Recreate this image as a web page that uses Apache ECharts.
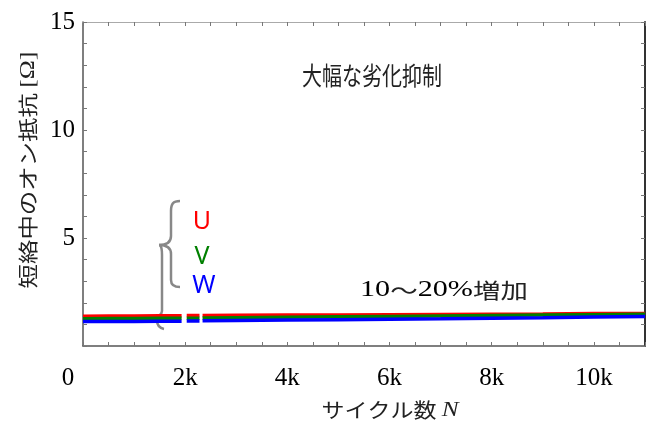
<!DOCTYPE html>
<html>
<head>
<meta charset="utf-8">
<script src="https://cdn.jsdelivr.net/npm/echarts@6/dist/echarts.min.js"></script>
<style>html,body{margin:0;padding:0;background:#fff}#c{width:654px;height:421px}</style>
</head>
<body>
<div id="c"></div>
<script>
var cycles = [0, 500, 1000, 1500, 1930, 1980, 2030, 2280, 2310, 2340, 3000, 4000, 5000, 6000, 7000, 8000, 9000, 10000, 11000];
var seriesU = [1.38, 1.39, 1.39, 1.40, 1.40, null, 1.41, 1.41, null, 1.41, 1.42, 1.43, 1.44, 1.45, 1.46, 1.47, 1.48, 1.50, 1.51];
var seriesV = [1.26, 1.27, 1.27, 1.28, 1.28, null, 1.29, 1.29, null, 1.30, 1.31, 1.33, 1.35, 1.37, 1.39, 1.41, 1.43, 1.45, 1.47];
var seriesW = [1.13, 1.14, 1.14, 1.15, 1.15, null, 1.16, 1.16, null, 1.17, 1.18, 1.20, 1.22, 1.24, 1.26, 1.29, 1.31, 1.34, 1.36];
var seriesNames = ['U', 'V', 'W'];
var seriesColors = ['#ff0000', '#008000', '#0000ff'];
var xTickLabels = ['0', '2k', '4k', '6k', '8k', '10k'];
var yTickLabels = ['', '5', '10', '15'];

function pairs(ys) { return cycles.map(function (x, i) { return [x, ys[i]]; }); }

var chart = echarts.init(document.getElementById('c'));
var serif = '"Liberation Serif","DejaVu Serif",serif';
var jp = '"Noto Sans CJK JP","Noto Sans",sans-serif';
var braceStyle = { stroke: '#888', lineWidth: 2.5, fill: null };
function bz(x1, y1, c1x, c1y, c2x, c2y, x2, y2) {
  return { type: 'bezierCurve', shape: { x1: x1, y1: y1, cpx1: c1x, cpy1: c1y, cpx2: c2x, cpy2: c2y, x2: x2, y2: y2 }, style: braceStyle };
}
function ln(x1, y1, x2, y2) {
  return { type: 'line', shape: { x1: x1, y1: y1, x2: x2, y2: y2 }, style: braceStyle };
}

var tickStyle = { show: true, inside: true, length: 4, lineStyle: { color: '#777', width: 1 } };
var minorX = { show: true, splitNumber: 4, length: 4, lineStyle: { color: '#777' } };
var minorY = { show: true, splitNumber: 5, length: 4, lineStyle: { color: '#777' } };
chart.setOption({
  animation: false,
  backgroundColor: '#fff',
  grid: { left: 83, right: 9, top: 22, bottom: 75, containLabel: false, outerBoundsMode: 'none' },
  xAxis: [{
    type: 'value', min: 0, max: 11000, interval: 2000, position: 'bottom',
    axisLine: { show: true, onZero: false, lineStyle: { color: '#555', width: 1.5 } },
    axisTick: tickStyle, minorTick: minorX,
    splitLine: { show: false },
    axisLabel: {
      margin: 20, color: '#000', fontFamily: serif, fontSize: 25,
      formatter: function (v) { var s = xTickLabels[Math.round(v / 2000)]; return v === 0 ? '{z|' + s + '}' : s; },
      rich: { z: { fontFamily: serif, fontSize: 25, color: '#000', padding: [0, 30, 0, 0] } }
    }
  }, {
    type: 'value', min: 0, max: 11000, interval: 2000, position: 'top',
    axisLine: { show: true, onZero: false, lineStyle: { color: '#aaa', width: 1 } },
    axisTick: tickStyle, minorTick: minorX,
    splitLine: { show: false }, axisLabel: { show: false }
  }],
  yAxis: [{
    type: 'value', min: 0, max: 15, interval: 5, position: 'left',
    axisLine: { show: true, onZero: false, lineStyle: { color: '#555', width: 1.5 } },
    axisTick: tickStyle, minorTick: minorY,
    splitLine: { show: false },
    axisLabel: { margin: 8, color: '#000', fontFamily: serif, fontSize: 25,
      formatter: function (v) { return yTickLabels[Math.round(v / 5)]; } }
  }, {
    type: 'value', min: 0, max: 15, interval: 5, position: 'right',
    axisLine: { show: true, onZero: false, lineStyle: { color: '#333', width: 2 } },
    axisTick: tickStyle, minorTick: minorY,
    splitLine: { show: false }, axisLabel: { show: false }
  }],
  series: [seriesU, seriesV, seriesW].map(function (d, i) {
    return {
      name: seriesNames[i], type: 'line', data: pairs(d), showSymbol: false,
      connectNulls: false, lineStyle: { color: seriesColors[i], width: 3.5 },
      itemStyle: { color: seriesColors[i] }
    };
  }),
  graphic: [
    { type: 'text', x: 28, y: 170, rotation: Math.PI / 2, scaleX: 1.22,
      style: { text: '短絡中のオン抵抗 {b|[Ω]}', font: '20px ' + jp, fill: '#222', align: 'center', verticalAlign: 'middle',
        rich: { b: { fontFamily: serif, fontSize: 21, fill: '#222' } } } },
    { type: 'text', x: 390, y: 410,
      style: { text: 'サイクル数 {n|N}', font: '20px ' + jp, fill: '#222', align: 'center', verticalAlign: 'middle',
        rich: { n: { fontFamily: serif, fontStyle: 'italic', fontSize: 22, fill: '#222' } } }, scaleX: 1.15 },
    { type: 'text', x: 372, y: 75, scaleX: 0.8,
      style: { text: '大幅な劣化抑制', font: '25px ' + jp, fill: '#222', align: 'center', verticalAlign: 'middle' } },
    { type: 'text', x: 444, y: 290, scaleX: 1.31,
      style: { text: '{d|10}{s|〜}{d|20%}{s|増加}', align: 'center', verticalAlign: 'middle',
        rich: { d: { fontFamily: serif, fontSize: 23, fill: '#000' }, s: { fontFamily: jp, fontSize: 21, fill: '#222' } } } },
    bz(180, 201, 173, 201, 171, 204, 171, 211),
    ln(171, 211, 171, 236),
    bz(171, 236, 171, 242, 167, 245, 159, 245),
    bz(159, 245, 167, 245, 171, 248, 171, 254),
    ln(171, 254, 171, 280),
    bz(171, 280, 171, 285, 174, 287, 180, 287),
    bz(160, 245, 162, 247, 162, 250, 162, 255),
    ln(162, 255, 162, 311),
    bz(162, 311, 162, 315, 157, 316, 157, 320),
    bz(157, 320, 157, 325, 159, 328, 164, 329),
    { type: 'text', x: 202, y: 222, style: { text: 'U', font: '25px "Noto Sans",sans-serif', fill: '#ff0000', align: 'center', verticalAlign: 'middle' } },
    { type: 'text', x: 202, y: 257, style: { text: 'V', font: '25px "Noto Sans",sans-serif', fill: '#008000', align: 'center', verticalAlign: 'middle' } },
    { type: 'text', x: 204, y: 286, style: { text: 'W', font: '25px "Noto Sans",sans-serif', fill: '#0000ff', align: 'center', verticalAlign: 'middle' } }
  ]
});
</script>
</body>
</html>
